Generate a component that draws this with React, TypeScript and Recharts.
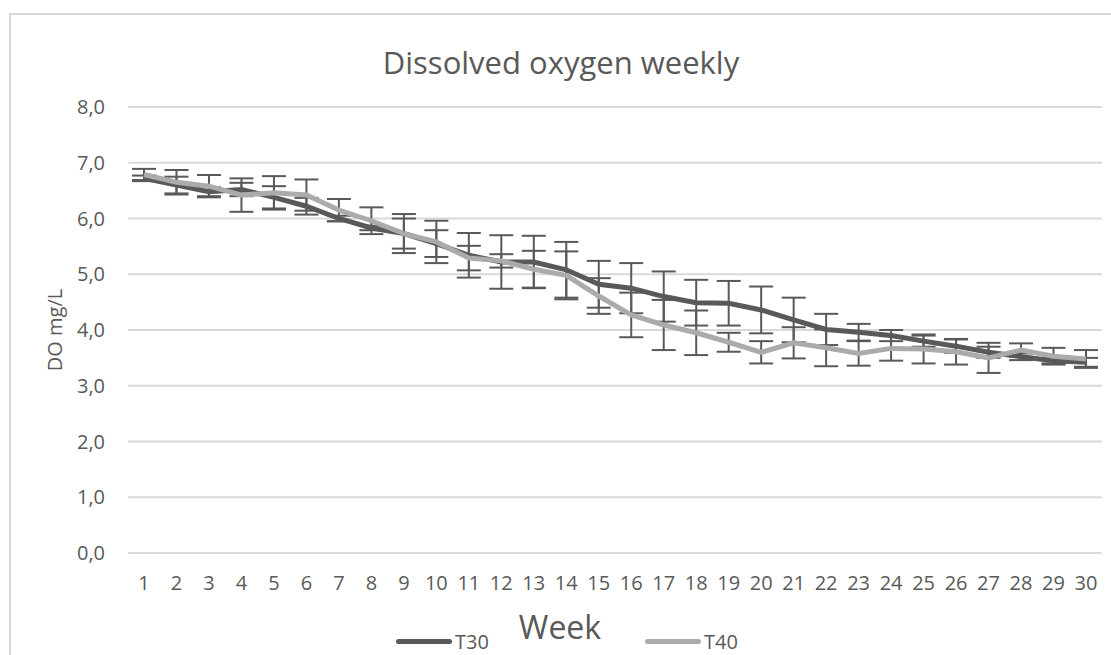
import React from 'react';
import { LineChart, Line, XAxis, YAxis, CartesianGrid, ErrorBar, Legend } from 'recharts';

// Weekly dissolved oxygen
const weeks = [
  1, 2, 3, 4, 5, 6, 7, 8, 9, 10, 11, 12, 13, 14, 15,
  16, 17, 18, 19, 20, 21, 22, 23, 24, 25, 26, 27, 28, 29, 30,
];
const t30 = [
  6.72, 6.6, 6.48, 6.52, 6.38, 6.22, 6.0, 5.83, 5.73, 5.55, 5.34, 5.22, 5.22, 5.08, 4.82,
  4.75, 4.6, 4.49, 4.48, 4.36, 4.18, 4.01, 3.96, 3.9, 3.8, 3.71, 3.6, 3.52, 3.45, 3.42,
];
const t40 = [
  6.79, 6.65, 6.58, 6.42, 6.46, 6.42, 6.15, 5.96, 5.73, 5.58, 5.29, 5.24, 5.09, 4.98, 4.61,
  4.27, 4.09, 3.95, 3.78, 3.6, 3.77, 3.68, 3.58, 3.67, 3.66, 3.61, 3.5, 3.64, 3.53, 3.48,
];
const t30Err = [
  0.05, 0.15, 0.08, 0.12, 0.2, 0.15, 0.05, 0.04, 0.27, 0.24, 0.4, 0.48, 0.47, 0.5, 0.42,
  0.45, 0.45, 0.41, 0.4, 0.42, 0.4, 0.28, 0.15, 0.1, 0.1, 0.12, 0.1, 0.06, 0.05, 0.08,
];
const t40Err = [
  0.1, 0.22, 0.2, 0.3, 0.3, 0.28, 0.2, 0.24, 0.35, 0.38, 0.22, 0.12, 0.33, 0.43, 0.32,
  0.4, 0.45, 0.4, 0.17, 0.2, 0.28, 0.33, 0.22, 0.22, 0.26, 0.23, 0.27, 0.12, 0.15, 0.16,
];
const yTicks = [0, 1, 2, 3, 4, 5, 6, 7, 8];

const data = weeks.map((w, i) => ({
  week: w,
  T30: t30[i],
  T40: t40[i],
  t30Err: t30Err[i],
  t40Err: t40Err[i],
}));

const FONT = '"Open Sans", sans-serif';
const TEXT = '#595959';
const legendX = [396, 645];

const renderLegend = (props: any) => {
  const payload = props.payload || [];
  return (
    <div style={{ position: 'relative', width: 1111, height: 0 }}>
      {payload.map((p: any, i: number) => (
        <div key={p.value} style={{ position: 'absolute', left: legendX[i], top: 626, display: 'flex', alignItems: 'center', height: 30 }}>
          <div style={{ width: 56, height: 5, borderRadius: 3, background: p.color }} />
          <span style={{ marginLeft: 3, fontSize: 20, color: TEXT, fontFamily: FONT }}>{p.value}</span>
        </div>
      ))}
    </div>
  );
};

export default function App() {
  return (
    <div style={{ position: 'relative', width: 1111, height: 655, overflow: 'hidden', background: '#fff' }}>
      <style>{'body{margin:0}'}</style>
      <div
        style={{
          position: 'absolute',
          left: 9,
          top: 13,
          width: 1200,
          height: 800,
          border: '2px solid #D9D9D9',
        }}
      />
      <div
        style={{
          position: 'absolute',
          left: 0,
          top: 42,
          width: 1122,
          textAlign: 'center',
          fontFamily: FONT,
          fontSize: 31,
          lineHeight: '40px',
          color: TEXT,
        }}
      >
        Dissolved oxygen weekly
      </div>
      <div style={{ position: 'absolute', left: 0, top: 0 }}>
        <LineChart
          width={1111}
          height={655}
          data={data}
          margin={{ top: 107, right: 9, left: 38, bottom: 0 }}
          style={{ fontFamily: FONT }}
        >
          <CartesianGrid vertical={false} stroke="#D9D9D9" strokeWidth={2} />
          <XAxis
            dataKey="week"
            height={102}
            padding={{ left: 16, right: 16 }}
            axisLine={false}
            tickLine={false}
            tickSize={0}
            tickMargin={23}
            interval={0}
            tick={{ fill: TEXT, fontSize: 20 }}
            label={{ value: 'Week', position: 'insideBottom', offset: 16, dx: -55, fill: TEXT, fontSize: 32 }}
          />
          <YAxis
            width={90}
            domain={[0, 8]}
            ticks={yTicks}
            axisLine={false}
            tickLine={false}
            tickSize={0}
            tickMargin={23}
            tick={{ fill: TEXT, fontSize: 20 }}
            tickFormatter={(v: number) => v.toFixed(1).replace('.', ',')}
            label={{ value: 'DO mg/L', angle: -90, position: 'insideLeft', offset: 17, fill: TEXT, fontSize: 20, style: { textAnchor: 'middle' } }}
          />
          <Legend
            content={renderLegend}
            wrapperStyle={{ left: 0, top: 0, bottom: 'auto', width: 1111, height: 0 }}
          />
          <Line
            type="linear"
            dataKey="T30"
            name="T30"
            stroke="#595959"
            strokeWidth={5}
            dot={false}
            isAnimationActive={false}
          >
            <ErrorBar dataKey="t30Err" width={12} stroke="#595959" strokeWidth={2} direction="y" isAnimationActive={false} />
          </Line>
          <Line
            type="linear"
            dataKey="T40"
            name="T40"
            stroke="#ABABAB"
            strokeWidth={5}
            dot={false}
            isAnimationActive={false}
          >
            <ErrorBar dataKey="t40Err" width={12} stroke="#595959" strokeWidth={2} direction="y" isAnimationActive={false} />
          </Line>
        </LineChart>
      </div>
    </div>
  );
}
